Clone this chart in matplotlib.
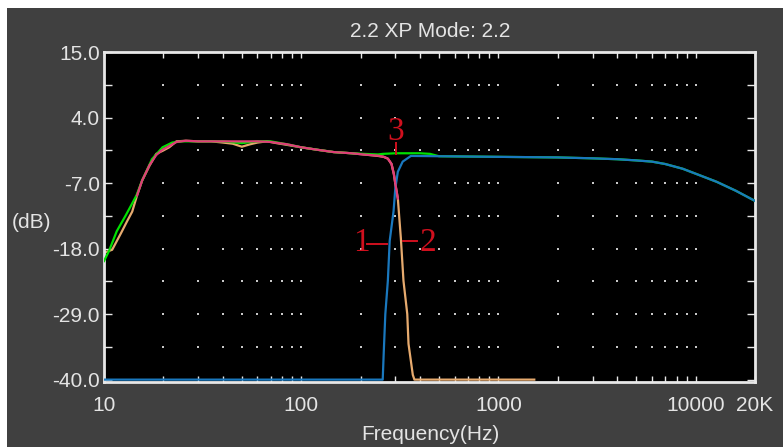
import matplotlib
matplotlib.use("Agg")
import matplotlib.pyplot as plt
from matplotlib.patches import Rectangle
from matplotlib.ticker import FixedLocator, NullFormatter, FixedFormatter

# ---------------- data ----------------
title = "2.2 XP Mode: 2.2"
x_label = "Frequency(Hz)"
y_label = "(dB)"

x_major = [10, 100, 1000, 10000, 20000]
x_major_labels = ["10", "100", "1000", "10000", "20K"]
x_minor = [20, 30, 40, 50, 60, 70, 80, 90,
           200, 300, 400, 500, 600, 700, 800, 900,
           2000, 3000, 4000, 5000, 6000, 7000, 8000, 9000]
y_major = [-40, -29, -18, -7, 4, 15]
y_major_labels = ["-40.0", "-29.0", "-18.0", "-7.0", "4.0", "15.0"]
y_minor = [-34.5, -23.5, -12.5, -1.5, 9.5]

grid_x = [20, 30, 40, 50, 60, 70, 80, 90, 100,
          200, 300, 400, 500, 600, 700, 800, 900, 1000,
          2000, 3000, 4000, 5000, 6000, 7000, 8000, 9000, 10000]
grid_y = [9.5, 4, -1.5, -7, -12.5, -18, -23.5, -29, -34.5]

# curve 1: low-pass (tan)
freq_lp = [10, 11, 12.2, 13.1, 13.9, 14.7, 15.6, 17, 18.4, 19.8, 21.4, 23.3, 26, 30,
           35, 40, 45, 50, 55, 60, 67, 75, 85, 100, 120, 146, 180, 207, 245, 262,
           275, 287, 295, 300, 309, 320, 330, 345, 350, 368, 375, 600, 1000, 1520]
db_lp = [-18.7, -18.2, -15.4, -13.4, -11.8, -9.1, -6.6, -4.1, -2.1, -1.6, -1.0, 0.0, 0.1, 0.0,
         0.0, -0.2, -0.4, -0.9, -0.5, -0.2, 0.0, -0.3, -0.6, -1.0, -1.4, -1.8, -2.0, -2.2, -2.45, -2.6,
         -2.9, -3.8, -5.5, -7.1, -9.6, -16.2, -23.4, -29.0, -34.0, -39.2, -40.0, -40.0, -40.0, -40.0]

# curve 2: high-pass (blue)
freq_hp = [10, 259, 262, 267, 275, 281, 294, 300, 309, 327, 360, 500, 1000, 2000, 3000,
           4000, 5000, 6000, 7000, 8600, 10500, 12800, 16000, 20000]
db_hp = [-40.0, -40.0, -35.6, -29.0, -23.4, -16.7, -11.7, -7.9, -5.1, -3.4, -2.45, -2.5, -2.6, -2.7, -2.85,
         -3.0, -3.2, -3.4, -3.8, -4.6, -5.7, -6.8, -8.3, -10.0]

# curve 3: sum (green)
freq_sum = [10, 10.6, 11.6, 12.9, 14.6, 15.6, 17.5, 19.8, 22.2, 25, 30, 40, 50, 60, 70, 85,
            100, 120, 146, 180, 207, 245, 260, 300, 400, 450, 500, 1000, 2000, 3000, 4000,
            5000, 6000, 7000, 8600, 10500, 12800, 16000, 20000]
db_sum = [-20.1, -18.4, -15.1, -12.4, -9.1, -6.6, -3.0, -1.0, -0.2, 0.0, 0.0, 0.0, -0.3, 0.0, 0.0, -0.5,
          -1.0, -1.4, -1.8, -2.0, -2.1, -2.2, -2.1, -2.0, -2.0, -2.1, -2.5, -2.6, -2.7, -2.85, -3.0,
          -3.2, -3.4, -3.8, -4.6, -5.7, -6.8, -8.3, -10.0]

# pink overlay
freq_pk = [14.7, 15.6, 17, 18.4, 19.8, 21.4, 23.3, 26, 30, 40, 50, 60, 70, 85, 100, 120,
           146, 180, 207, 245, 262, 275, 287, 295, 300, 309]
db_pk = [-9.1, -6.6, -4.0, -2.3, -1.4, -0.8, -0.1, 0.1, 0.0, 0.0, 0.0, 0.0, -0.1, -0.5, -1.0, -1.4,
         -1.8, -2.0, -2.2, -2.4, -2.6, -2.9, -3.8, -5.5, -7.1, -9.6]

# marker labels (text, x, y) and their leader lines
mark_labels = [("3", 302, 1.6), ("1", 203, -17.0), ("2", 440, -17.0)]
mark_lines = [([302, 302], [-0.2, -2.1]), ([216, 272], [-17.3, -17.3]), ([328, 387], [-16.8, -16.8])]

# ---------------- style ----------------
W, H = 783, 447
BG = "#404040"
TXT = "#E4E4E4"
FONT = "Liberation Sans"
FS = 15

fig = plt.figure(figsize=(W / 100, H / 100), dpi=100, facecolor="white")
fig.patches.append(Rectangle((7 / W, 0), 1 - 7 / W, 1 - 8 / H, transform=fig.transFigure,
                             facecolor=BG, edgecolor="none", zorder=-10))

ax = fig.add_axes([104 / W, (H - 382) / H, 651 / W, 330 / H])
ax.set_zorder(1)
ax.set_facecolor("black")
ax.set_xscale("log")
ax.set_xlim(10, 20000)
ax.set_ylim(-40.4, 15)

# dotted grid
gx = [x for x in grid_x for _ in grid_y]
gy = [y for _ in grid_x for y in grid_y]
ax.scatter(gx, gy, s=2.5, marker="s", color="#C8C8C8", linewidths=0, zorder=1)

lw = 1.6
ax.plot(freq_lp, db_lp, color="#E6AA6E", lw=lw, zorder=2)
ax.plot(freq_sum, db_sum, color="#00E000", lw=lw, zorder=3)
ax.plot(freq_hp, db_hp, color="#1A78BE", lw=lw, zorder=4)
ax.plot(freq_pk, db_pk, color="#E03C78", lw=lw, zorder=5)

red = "#D0101E"
for t, x, y in mark_labels:
    ax.text(x, y, t, color=red, fontsize=24, family="Liberation Serif",
            ha="center", va="center", zorder=6)
for xs, ys in mark_lines:
    ax.plot(xs, ys, color=red, lw=1.4, zorder=6)

# spines
for s in ax.spines.values():
    s.set_color("#E8E8E8")
    s.set_linewidth(2)

ax.xaxis.set_major_locator(FixedLocator(x_major))
ax.xaxis.set_major_formatter(FixedFormatter(x_major_labels))
ax.xaxis.set_minor_locator(FixedLocator(x_minor))
ax.xaxis.set_minor_formatter(NullFormatter())
ax.yaxis.set_major_locator(FixedLocator(y_major))
ax.yaxis.set_major_formatter(FixedFormatter(y_major_labels))
ax.yaxis.set_minor_locator(FixedLocator(y_minor))

ax.tick_params(axis="x", which="both", direction="in", top=True, bottom=True,
               length=4.5, width=1, color="#E8E8E8", labelcolor=TXT, labelsize=FS, pad=10)
ax.tick_params(axis="y", which="both", direction="in", left=True, right=True,
               length=6, width=1, color="#E8E8E8", labelcolor=TXT, labelsize=FS, pad=3)
for lab in ax.get_xticklabels() + ax.get_yticklabels():
    lab.set_family(FONT)

fig.text(430 / W, 1 - 37 / H, title, color=TXT, fontsize=FS, family=FONT,
         ha="center", va="baseline")
fig.text(430 / W, 1 - 440 / H, x_label, color=TXT, fontsize=FS, family=FONT,
         ha="center", va="baseline")
fig.text(31 / W, 1 - 228 / H, y_label, color=TXT, fontsize=FS, family=FONT,
         ha="center", va="baseline")

fig.savefig("out.png", dpi=100, facecolor=fig.get_facecolor())
